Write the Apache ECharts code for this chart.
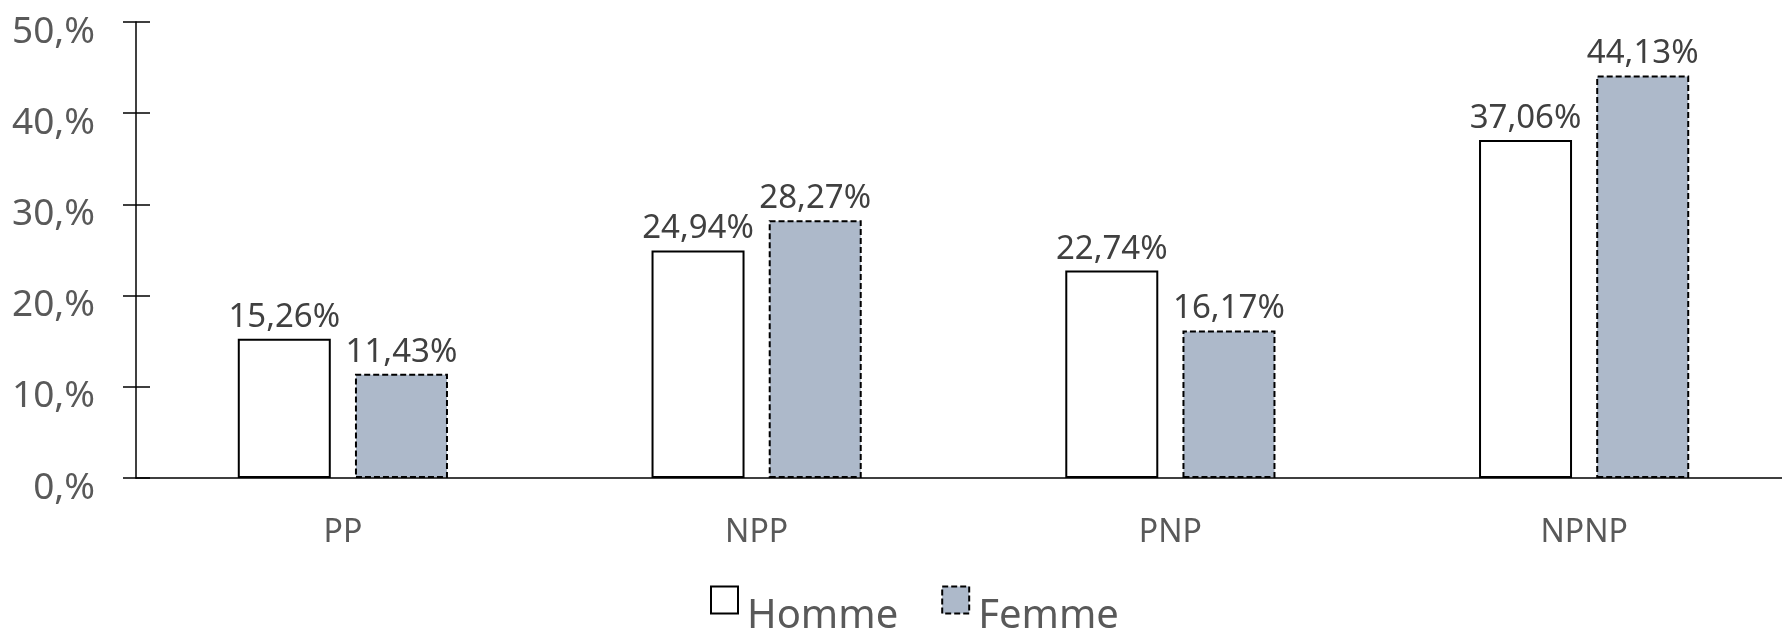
<!DOCTYPE html>
<html>
<head>
<meta charset="utf-8">
<script src="https://cdn.jsdelivr.net/npm/echarts@6/dist/echarts.min.js"></script>
<style>
html,body{margin:0;padding:0;background:#fff;}
#main{width:1782px;height:629px;}
</style>
</head>
<body>
<div id="main"></div>
<script>
// 数据
var categories = ['PP', 'NPP', 'PNP', 'NPNP'];
var homme = [15.26, 24.94, 22.74, 37.06];
var femme = [11.43, 28.27, 16.17, 44.13];
var seriesNames = ['Homme', 'Femme'];

var fontName = '"Noto Sans", "Open Sans", sans-serif';

function pct(v) {
	return v.toFixed(2).replace('.', ',') + '%';
}

var hommeStyle = { color: '#ffffff', borderColor: '#000', borderWidth: 2 };
var femmeStyle = { color: '#adb9ca', borderColor: '#000', borderWidth: 2, borderType: [6, 3] };

var labelInfo = {
	show: true,
	position: 'top',
	distance: 5,
	color: '#404040',
	fontFamily: fontName,
	fontSize: 33,
	formatter: function (p) { return pct(p.value); }
};

var myChart = echarts.init(document.getElementById('main'));
var option = {
	backgroundColor: '#fff',
	animation: false,
	textStyle: { fontFamily: fontName },
	grid: {
		left: 136,
		width: 1655,
		top: 22,
		bottom: 151,
		containLabel: false,
		outerBoundsMode: 'none'
	},
	legend: {
		data: [
			{ name: seriesNames[0], icon: 'rect', itemStyle: hommeStyle },
			{ name: seriesNames[1], icon: 'rect', itemStyle: femmeStyle }
		],
		left: 705,
		top: 558,
		itemWidth: 27,
		itemHeight: 27,
		itemGap: 43,
		formatter: function (n) { return '\n' + n; },
		textStyle: {
			fontFamily: fontName,
			fontSize: 40,
			lineHeight: 34,
			color: '#595959',
			padding: [0, 0, 0, 4]
		}
	},
	xAxis: {
		type: 'category',
		data: categories,
		axisLine: { lineStyle: { color: '#000', width: 1.5 } },
		axisTick: { show: false },
		axisLabel: {
			color: '#595959',
			fontFamily: fontName,
			fontSize: 32,
			margin: 39
		},
		splitLine: { show: false }
	},
	yAxis: [
		{
			type: 'value',
			min: 0,
			max: 50,
			interval: 10,
			axisLine: { show: true, lineStyle: { color: '#000', width: 1.5 } },
			axisTick: { show: true, length: 13, lineStyle: { color: '#000', width: 1.5 } },
			axisLabel: {
				color: '#595959',
				fontFamily: fontName,
				fontSize: 37,
				margin: 41,
				verticalAlign: 'top',
				lineHeight: 20,
				formatter: function (v) { return v + ',%'; }
			},
			splitLine: { show: false }
		},
		{
			// 内侧刻度
			type: 'value',
			position: 'left',
			min: 0,
			max: 50,
			interval: 10,
			axisLine: { show: false },
			axisTick: { show: true, inside: true, length: 14, lineStyle: { color: '#000', width: 1.5 } },
			axisLabel: { show: false },
			splitLine: { show: false }
		}
	],
	series: [
		{
			name: seriesNames[0],
			type: 'bar',
			barWidth: 93,
			barGap: '26%',
			itemStyle: hommeStyle,
			label: labelInfo,
			data: homme
		},
		{
			name: seriesNames[1],
			type: 'bar',
			barWidth: 93,
			barGap: '26%',
			itemStyle: femmeStyle,
			label: labelInfo,
			data: femme
		}
	]
};
myChart.setOption(option);
</script>
</body>
</html>
